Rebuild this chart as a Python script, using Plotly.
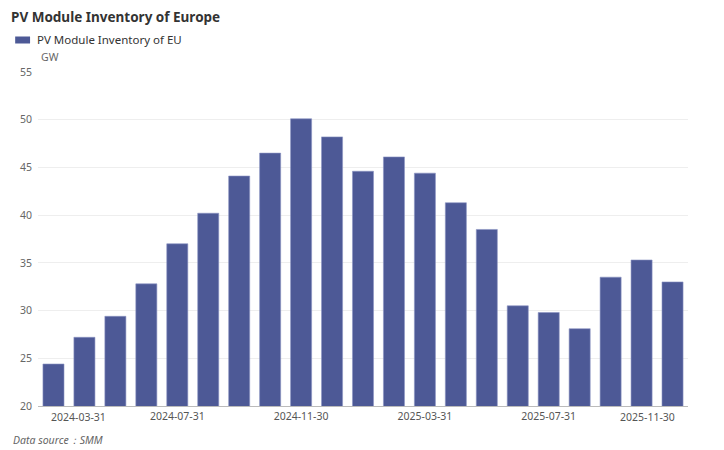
import plotly.graph_objects as go

dates = ["2024-03-31", "2024-04-30", "2024-05-31", "2024-06-30", "2024-07-31",
         "2024-08-31", "2024-09-30", "2024-10-31", "2024-11-30", "2024-12-31",
         "2025-01-31", "2025-02-28", "2025-03-31", "2025-04-30", "2025-05-31",
         "2025-06-30", "2025-07-31", "2025-08-31", "2025-09-30", "2025-10-31",
         "2025-11-30"]
inventory = [24.4, 27.2, 29.4, 32.8, 37.0, 40.2, 44.1, 46.5, 50.1, 48.2,
             44.6, 46.1, 44.4, 41.3, 38.5, 30.5, 29.8, 28.1, 33.5, 35.3, 33.0]
mid_ticks = ["2024-07-31", "2024-11-30", "2025-03-31", "2025-07-31"]
y_ticks = [20, 25, 30, 35, 40, 45, 50, 55]

# the page body adds an 8px offset; figure coords = reference coords - 8
OFF = 8
W, H = 724 - OFF, 450 - OFF
PL, PR, PT, PB = 33 - OFF, 688 - OFF, 72 - OFF, 406 - OFF
L, R, T, B = PL, W - PR, PT, H - PB
PW, PH = PR - PL, PB - PT
FONT = "Noto Sans"
BAR = "#4d5996"


def px(x):
    return (x - OFF - PL) / PW


def py(y):
    return (PB - (y - OFF)) / PH


fig = go.Figure()
fig.add_trace(go.Bar(
    x=dates, y=inventory, name="PV Module Inventory of EU",
    marker=dict(color=BAR, line=dict(color="#8c94c2", width=0.6)),
    hovertemplate="%{x}<br>%{y} GW<extra></extra>",
))

tick_font = dict(family=FONT, size=10.5, color="#555555")
annotations = [
    dict(text="GW", xref="paper", yref="paper", x=px(34), y=py(57),
         xanchor="left", yanchor="middle", showarrow=False,
         font=dict(family=FONT, size=10.5, color="#666666")),
    dict(text="PV Module Inventory of EU", xref="paper", yref="paper",
         x=px(30), y=py(40), xanchor="left", yanchor="middle",
         showarrow=False, font=dict(family=FONT, size=11.5, color="#333333")),
    dict(text="<i>Data source：SMM</i>", xref="paper", yref="paper",
         x=px(6), y=py(440), xanchor="left", yanchor="middle",
         showarrow=False, font=dict(family=FONT, size=10.5, color="#666666")),
    dict(text=dates[0], xref="x", yref="paper", x=dates[0], y=0, yshift=-11,
         xshift=25, xanchor="center", yanchor="middle", showarrow=False,
         font=tick_font),
    dict(text=dates[-1], xref="x", yref="paper", x=dates[-1], y=0, yshift=-11,
         xshift=-25, xanchor="center", yanchor="middle", showarrow=False,
         font=tick_font),
]

shapes = [
    dict(type="rect", xref="paper", yref="paper", x0=px(10), x1=px(25),
         y0=py(43.5), y1=py(36.5), fillcolor=BAR, line=dict(width=0)),
]

fig.update_layout(
    width=W, height=H,
    margin=dict(l=L, r=R, t=T, b=B, pad=0),
    paper_bgcolor="white", plot_bgcolor="white",
    showlegend=False,
    bargap=0.32,
    title=dict(text="<b>PV Module Inventory of Europe</b>", x=(11 - OFF) / W, xref="container",
               xanchor="left", y=1 - (17 - OFF) / H, yref="container", yanchor="middle",
               font=dict(family=FONT, size=13.5, color="#333333")),
    font=dict(family=FONT, size=10.5, color="#666666"),
    annotations=annotations,
    shapes=shapes,
    xaxis=dict(type="category", tickmode="array", tickvals=mid_ticks, ticktext=mid_ticks,
               showgrid=False, showline=True, linecolor="#bbbbbb", linewidth=1,
               ticks="", tickfont=tick_font, fixedrange=True),
    yaxis=dict(range=[20, 55], tickvals=y_ticks, showgrid=True, gridcolor="#eeeeee",
               gridwidth=1, zeroline=False, showline=False, ticks="",
               ticklabelstandoff=5,
               tickfont=dict(family=FONT, size=10.5, color="#666666"), fixedrange=True),
)

fig.write_html("out.html")
